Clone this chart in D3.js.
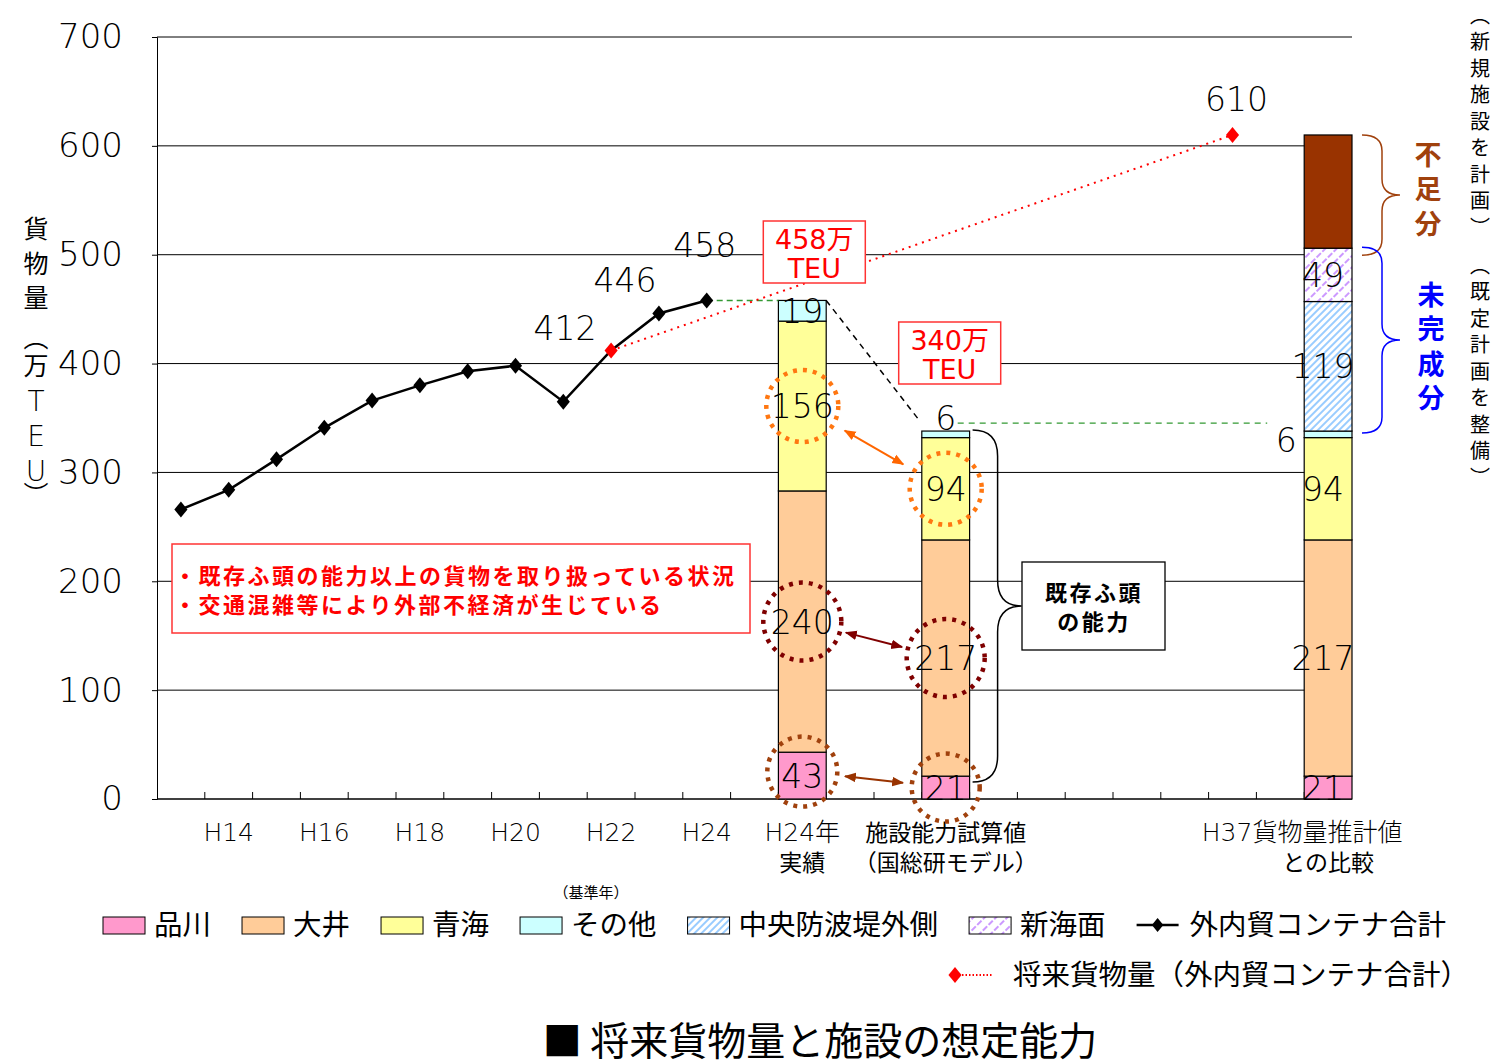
<!DOCTYPE html>
<html>
<head>
<meta charset="utf-8">
<script src="https://cdn.jsdelivr.net/npm/d3@7"></script>
<style>
  body { margin: 0; background: #fff; }
  svg { display: block; }
</style>
</head>
<body>
<svg id="chart" width="1512" height="1063"></svg>
<script>
// ---- data ----
const categories = ["H13","H14","H15","H16","H17","H18","H19","H20","H21","H22","H23","H24",
  "_g1","H24実績","_g2","_g3","試算値","_g4","_g5","_g6","_g7","_g8","H37","_g9","H37比較"];
const years  = ["H13","H14","H15","H16","H17","H18","H19","H20","H21","H22","H23","H24"];
const totals = [266, 284, 312, 341, 366, 380, 393, 398, 365, 412, 446, 458];
const labeledYears = ["H22","H23","H24"];
const forecastFrom = "H22";
const forecastYear = "H37";
const forecastValue = 610;

const tickCats  = ["H14","H16","H18","H20","H22","H24","H24実績","試算値","H37比較"];
const tickTexts = [["H14"],["H16"],["H18"],["H20"],["H22"],["H24"],["H24年","実績"],
                   ["施設能力試算値","（国総研モデル）"],["H37貨物量推計値","との比較"]];

const barCats     = ["H24実績","試算値","H37比較"];
const shinagawa   = [43, 21, 21];
const oi          = [240, 217, 217];
const aomi        = [156, 94, 94];
const other       = [19, 6, 6];
const chuoOuter   = [0, 0, 119];
const shinkaimen  = [0, 0, 49];

const stackKeys   = ["品川","大井","青海","その他","中央防波堤外側","新海面","不足分"];
const legendKeys  = ["品川","大井","青海","その他","中央防波堤外側","新海面"];

// ---- layout ----
const svg = d3.select("#chart");
const L = 157, R = 1352, T = 37, B = 799;
const x = d3.scaleBand().domain(categories).range([L, R]).padding(0);
const y = d3.scaleLinear().domain([0, 700]).range([B, T]);
const bw = x.bandwidth();
const cx = c => x(c) + bw / 2;

const fNum = "'DejaVu Sans','Noto Sans CJK JP',sans-serif";
const fJp  = "'Noto Sans CJK JP',sans-serif";
const numWeight = 200;

const fills = {
  "品川": "#FF99CC", "大井": "#FFCC99", "青海": "#FFFF99", "その他": "#CCFFFF",
  "中央防波堤外側": "url(#hatchBlue)", "新海面": "url(#hatchPurple)", "不足分": "#993300"
};

// ---- defs ----
const defs = svg.append("defs");
const pb = defs.append("pattern").attr("id", "hatchBlue").attr("patternUnits", "userSpaceOnUse")
  .attr("width", 5).attr("height", 5).attr("patternTransform", "rotate(45)");
pb.append("rect").attr("width", 5).attr("height", 5).attr("fill", "#fff");
pb.append("line").attr("x1", 1).attr("y1", 0).attr("x2", 1).attr("y2", 5)
  .attr("stroke", "#99CCFF").attr("stroke-width", 2);
const pp = defs.append("pattern").attr("id", "hatchPurple").attr("patternUnits", "userSpaceOnUse")
  .attr("width", 8).attr("height", 8).attr("patternTransform", "rotate(45)");
pp.append("rect").attr("width", 8).attr("height", 8).attr("fill", "#fff");
pp.append("line").attr("x1", 1).attr("y1", 0).attr("x2", 1).attr("y2", 8)
  .attr("stroke", "#CC99FF").attr("stroke-width", 2).attr("stroke-dasharray", "3,2");

function arrowMarker(id, color) {
  defs.append("marker").attr("id", id).attr("viewBox", "0 0 10 10")
    .attr("refX", 9).attr("refY", 5).attr("markerWidth", 12).attr("markerHeight", 12)
    .attr("orient", "auto-start-reverse").attr("markerUnits", "userSpaceOnUse")
    .append("path").attr("d", "M0,1 L10,5 L0,9 Z").attr("fill", color);
}
arrowMarker("arOrange", "#FF6600");
arrowMarker("arDark", "#800000");
arrowMarker("arBrown", "#993300");

// ---- grid & axes ----
const yTicks = d3.range(0, 701, 100);
svg.append("g").selectAll("line").data(yTicks.filter(v => v > 0)).join("line")
  .attr("x1", L).attr("x2", R).attr("y1", d => y(d)).attr("y2", d => y(d))
  .attr("stroke", "#000").attr("stroke-width", 1);

const yAxis = svg.append("g").attr("transform", `translate(${L},0)`)
  .call(d3.axisLeft(y).tickValues(yTicks).tickSize(5).tickPadding(29).tickFormat(d3.format("d")));
yAxis.select(".domain").attr("stroke", "#000");
yAxis.selectAll("text").attr("font-family", fNum).attr("font-weight", numWeight)
  .attr("font-size", 34).attr("fill", "#000");

svg.append("line").attr("x1", L).attr("x2", R).attr("y1", B).attr("y2", B)
  .attr("stroke", "#000").attr("stroke-width", 1.5);
svg.append("g").selectAll("line").data(categories.slice(1)).join("line")
  .attr("x1", d => x(d)).attr("x2", d => x(d)).attr("y1", B).attr("y2", B - 7)
  .attr("stroke", "#000").attr("stroke-width", 1);

// x labels
const xl = svg.append("g").attr("fill", "#000");
tickCats.forEach((c, i) => {
  tickTexts[i].forEach((t, j) => {
    const shift = (c === "H37比較" && j === 0) ? -26 : 0;
    const latin = /^[A-Z]/.test(t);
    xl.append("text").attr("x", cx(c) + shift).attr("y", 841 + j * 30)
      .attr("text-anchor", "middle")
      .attr("font-family", latin ? fNum : fJp)
      .attr("font-weight", latin ? 300 : 400)
      .attr("font-size", latin ? 25 : 23).text(t);
  });
});
svg.append("text").attr("x", cx("H22") - 20).attr("y", 898).attr("text-anchor", "middle")
  .attr("font-family", fJp).attr("font-size", 15).text("（基準年）");

// y title (vertical)
const yTitle = [["貨",227],["物",262],["量",296],["︵",336],["万",364],["T",401],["E",436],["U",471],["︶",493]];
svg.append("g").selectAll("text").data(yTitle).join("text")
  .attr("x", 36).attr("y", d => d[1]).attr("text-anchor", "middle").attr("dominant-baseline", "central")
  .attr("font-family", d => /[A-Z]/.test(d[0]) ? fNum : fJp)
  .attr("font-weight", d => /[A-Z]/.test(d[0]) ? numWeight : 400)
  .attr("font-size", d => /[A-Z]/.test(d[0]) ? 28 : 25).text(d => d[0]);

// ---- stacked bars ----
const barRows = barCats.map((c, i) => {
  const row = { cat: c, "品川": shinagawa[i], "大井": oi[i], "青海": aomi[i], "その他": other[i],
    "中央防波堤外側": chuoOuter[i], "新海面": shinkaimen[i] };
  const sum = stackKeys.slice(0, 6).reduce((s, k) => s + row[k], 0);
  row["不足分"] = c === "H37比較" ? forecastValue - sum : 0;
  row.sum = sum;
  return row;
});
const stacked = d3.stack().keys(stackKeys)(barRows);
const gBars = svg.append("g");
stacked.forEach(s => {
  gBars.selectAll(null).data(s.filter(d => d[1] - d[0] > 0)).join("rect")
    .attr("x", d => x(d.data.cat)).attr("width", bw)
    .attr("y", d => y(d[1])).attr("height", d => y(d[0]) - y(d[1]))
    .attr("fill", fills[s.key]).attr("stroke", "#000").attr("stroke-width", 1.2);
});

// segment value labels
const gLab = svg.append("g").attr("font-family", fNum).attr("font-weight", numWeight)
  .attr("font-size", 33).attr("fill", "#000");
stacked.forEach(s => {
  if (s.key === "不足分") return;
  s.forEach(d => {
    const v = d[1] - d[0];
    if (v <= 0) return;
    let lx = cx(d.data.cat), ly = y((d[0] + d[1]) / 2);
    if (d.data.cat === "H37比較") lx -= 5;
    if (s.key === "その他" && d.data.cat === "試算値") { ly = y(d[1]) - 13; }
    if (s.key === "その他" && d.data.cat === "H37比較") { lx = x(d.data.cat) - 18; ly = y(d[0]) + 2; }
    gLab.append("text").attr("x", lx).attr("y", ly + 12).attr("text-anchor", "middle").text(v);
  });
});

// ---- line series ----
const pts = years.map((yr, i) => ({ year: yr, value: totals[i] }));
const diamond = s => `M0,${-s} L${s * 0.82},0 L0,${s} L${-s * 0.82},0 Z`;

// connectors
const h24 = pts.find(p => p.year === "H24");
svg.append("line").attr("x1", cx("H24")).attr("x2", x("H24実績")).attr("y1", y(h24.value)).attr("y2", y(h24.value))
  .attr("stroke", "#339933").attr("stroke-width", 1.5).attr("stroke-dasharray", "6,4");
const capTotal = barRows[1].sum;
svg.append("line").attr("x1", x("H24実績") + bw).attr("y1", y(barRows[0].sum))
  .attr("x2", x("試算値") - 2).attr("y2", y(capTotal) - 10)
  .attr("stroke", "#000").attr("stroke-width", 1.5).attr("stroke-dasharray", "6,5");
svg.append("line").attr("x1", cx("試算値") + 12).attr("x2", x("H37比較") - 37)
  .attr("y1", y(capTotal) - 8).attr("y2", y(capTotal) - 8)
  .attr("stroke", "#339933").attr("stroke-width", 1.3).attr("stroke-dasharray", "6,5");

// forecast dotted line
const f0 = pts.find(p => p.year === forecastFrom);
svg.append("line").attr("x1", cx(forecastFrom)).attr("y1", y(f0.value))
  .attr("x2", cx(forecastYear)).attr("y2", y(forecastValue))
  .attr("stroke", "#FF0000").attr("stroke-width", 2).attr("stroke-dasharray", "2,5");

svg.append("path").datum(pts)
  .attr("d", d3.line().x(d => cx(d.year)).y(d => y(d.value)))
  .attr("fill", "none").attr("stroke", "#000").attr("stroke-width", 2.5);
svg.append("g").selectAll("path").data(pts).join("path")
  .attr("transform", d => `translate(${cx(d.year)},${y(d.value)})`)
  .attr("d", diamond(8)).attr("fill", d => d.year === forecastFrom ? "#FF0000" : "#000");
svg.append("path").attr("transform", `translate(${cx(forecastYear)},${y(forecastValue)})`)
  .attr("d", diamond(8)).attr("fill", "#FF0000");

// point labels
const ptLabelOffsets = { H22: [-46, -23], H23: [-34, -33], H24: [-2, -55] };
svg.append("g").attr("font-family", fNum).attr("font-weight", numWeight).attr("font-size", 33).attr("fill", "#000")
  .selectAll("text").data(pts.filter(p => labeledYears.includes(p.year))).join("text")
  .attr("x", d => cx(d.year) + ptLabelOffsets[d.year][0])
  .attr("y", d => y(d.value) + ptLabelOffsets[d.year][1] + 12)
  .attr("text-anchor", "middle").text(d => d.value);
svg.append("text").attr("x", cx(forecastYear) + 4).attr("y", y(forecastValue) - 36 + 12)
  .attr("text-anchor", "middle").attr("font-family", fNum).attr("font-weight", numWeight)
  .attr("font-size", 33).text(forecastValue);

// ---- red value boxes ----
function valueBox(cxp, top, value) {
  const g = svg.append("g");
  g.append("rect").attr("x", cxp - 51).attr("y", top).attr("width", 102).attr("height", 62)
    .attr("fill", "#fff").attr("stroke", "#FF3333").attr("stroke-width", 1.5);
  g.append("text").attr("x", cxp).attr("y", top + 28).attr("text-anchor", "middle")
    .attr("font-family", fNum).attr("font-size", 27).attr("fill", "#FF0000").text(`${value}万`);
  g.append("text").attr("x", cxp).attr("y", top + 57).attr("text-anchor", "middle")
    .attr("font-family", fNum).attr("font-size", 27).attr("fill", "#FF0000").text("TEU");
}
valueBox(cx("H24実績") + 12, 221, barRows[0].sum);
valueBox(cx("試算値") + 4, 322, Math.round(capTotal / 10) * 10);

// ---- dotted circles and arrows ----
const segCenter = (barIdx, key) => {
  const s = stacked.find(k => k.key === key)[barIdx];
  return [cx(barCats[barIdx]), y((s[0] + s[1]) / 2)];
};
const circles = [
  { key: "青海", color: "#FF7711", line: "#FF6600", r: [36, 36], marker: "arOrange", gap: 49 },
  { key: "大井", color: "#7F0000", line: "#800000", r: [39, 39], marker: "arDark", gap: 45 },
  { key: "品川", color: "#A0410D", line: "#993300", r: [35, 34], marker: "arBrown", gap: 43 }
];
const gC = svg.append("g");
circles.forEach(c => {
  const a = segCenter(0, c.key), b = segCenter(1, c.key);
  if (c.key === "品川") a[1] -= 4;
  [a, b].forEach((p, i) => gC.append("circle").attr("cx", p[0]).attr("cy", p[1]).attr("r", c.r[i])
    .attr("fill", "none").attr("stroke", c.color).attr("stroke-width", 4.5).attr("stroke-dasharray", "4,6"));
  const dx = b[0] - a[0], dy = b[1] - a[1], len = Math.hypot(dx, dy), ux = dx / len, uy = dy / len;
  gC.append("line").attr("x1", a[0] + ux * c.gap).attr("y1", a[1] + uy * c.gap)
    .attr("x2", b[0] - ux * c.gap).attr("y2", b[1] - uy * c.gap)
    .attr("stroke", c.line).attr("stroke-width", 2)
    .attr("marker-start", `url(#${c.marker})`).attr("marker-end", `url(#${c.marker})`);
});

// ---- braces ----
function brace(x0, y0, y1, xm, xt, r) {
  const ym = (y0 + y1) / 2;
  return `M${x0},${y0} Q${xm},${y0} ${xm},${y0 + r} L${xm},${ym - r} Q${xm},${ym} ${xt},${ym}` +
         ` Q${xm},${ym} ${xm},${ym + r} L${xm},${y1 - r} Q${xm},${y1} ${x0},${y1}`;
}
const b3 = x("H37比較") + bw;
svg.append("path").attr("d", brace(b3 + 10, y(forecastValue), y(barRows[2].sum) + 7, b3 + 30, b3 + 48, 16))
  .attr("fill", "none").attr("stroke", "#A0410D").attr("stroke-width", 1.5);
svg.append("path").attr("d", brace(b3 + 10, y(barRows[2].sum) - 1, y(capTotal) + 2, b3 + 30, b3 + 48, 16))
  .attr("fill", "none").attr("stroke", "#0000FF").attr("stroke-width", 1.5);
const b2 = x("試算値") + bw;
svg.append("path").attr("d", brace(b2 + 3, y(capTotal) - 1, y(0) - 17, b2 + 28, b2 + 52, 26))
  .attr("fill", "none").attr("stroke", "#000").attr("stroke-width", 1.5);

// side texts
const sideBold = (chars, xp, y0, step, color) =>
  svg.append("g").selectAll("text").data(chars).join("text")
    .attr("x", xp).attr("y", (d, i) => y0 + i * step).attr("text-anchor", "middle")
    .attr("dominant-baseline", "central").attr("font-family", fJp).attr("font-weight", "bold")
    .attr("font-size", 27).attr("fill", color).text(d => d);
sideBold(["不","足","分"], 1428, 153, 34.5, "#A0410D");
sideBold(["未","完","成","分"], 1431, 293, 34.5, "#0000FF");

const sideThin = (chars, xp, y0, step) =>
  svg.append("g").selectAll("text").data(chars).join("text")
    .attr("x", xp).attr("y", (d, i) => y0 + i * step).attr("text-anchor", "middle")
    .attr("dominant-baseline", "central").attr("font-family", fJp)
    .attr("font-size", 20).attr("fill", "#000").text(d => d);
sideThin(["︵","新","規","施","設","を","計","画","︶"], 1480, 14, 26.5);
sideThin(["︵","既","定","計","画","を","整","備","︶"], 1480, 264, 26.5);

// existing capacity box
svg.append("rect").attr("x", 1022).attr("y", 562).attr("width", 143).attr("height", 88)
  .attr("fill", "#fff").attr("stroke", "#000").attr("stroke-width", 1.3);
svg.append("text").attr("x", 1094).attr("y", 601).attr("text-anchor", "middle").attr("font-family", fJp)
  .attr("font-weight", "bold").attr("font-size", 22).attr("letter-spacing", 2.5).text("既存ふ頭");
svg.append("text").attr("x", 1094).attr("y", 630).attr("text-anchor", "middle").attr("font-family", fJp)
  .attr("font-weight", "bold").attr("font-size", 22).attr("letter-spacing", 2.5).text("の能力");

// red note box
svg.append("rect").attr("x", 172).attr("y", 544).attr("width", 578).attr("height", 89)
  .attr("fill", "#fff").attr("stroke", "#FF3333").attr("stroke-width", 1.5);
const notes = ["・既存ふ頭の能力以上の貨物を取り扱っている状況", "・交通混雑等により外部不経済が生じている"];
svg.append("g").selectAll("text").data(notes).join("text")
  .attr("x", 174).attr("y", (d, i) => 584 + i * 29).attr("font-family", fJp).attr("font-weight", "bold")
  .attr("font-size", 22).attr("letter-spacing", 2.5).attr("fill", "#FF0000").text(d => d);

// ---- legend ----
const lg = svg.append("g").attr("font-family", fJp).attr("font-size", 28.5).attr("fill", "#000");
let lx = 103;
const ly = 925;
legendKeys.forEach(k => {
  lg.append("rect").attr("x", lx).attr("y", ly - 8).attr("width", 42).attr("height", 17)
    .attr("fill", fills[k]).attr("stroke", "#000").attr("stroke-width", 1);
  const t = lg.append("text").attr("x", lx + 51).attr("y", ly + 10).text(k);
  lx += 51 + t.node().getComputedTextLength() + 31;
});
lg.append("line").attr("x1", lx).attr("x2", lx + 42).attr("y1", ly).attr("y2", ly)
  .attr("stroke", "#000").attr("stroke-width", 2.5);
lg.append("path").attr("transform", `translate(${lx + 21},${ly})`).attr("d", diamond(7)).attr("fill", "#000");
lg.append("text").attr("x", lx + 53).attr("y", ly + 10).text("外内貿コンテナ合計");

lg.append("line").attr("x1", 962).attr("x2", 992).attr("y1", 975).attr("y2", 975)
  .attr("stroke", "#FF0000").attr("stroke-width", 2).attr("stroke-dasharray", "1.5,2");
lg.append("path").attr("transform", "translate(955,975)").attr("d", diamond(8)).attr("fill", "#FF0000");
lg.append("text").attr("x", 1013).attr("y", 985).text("将来貨物量（外内貿コンテナ合計）");

// ---- title ----
svg.append("text").attr("x", 820).attr("y", 1055).attr("text-anchor", "middle")
  .attr("font-family", fJp).attr("font-size", 39).text("■ 将来貨物量と施設の想定能力");
</script>
</body>
</html>
